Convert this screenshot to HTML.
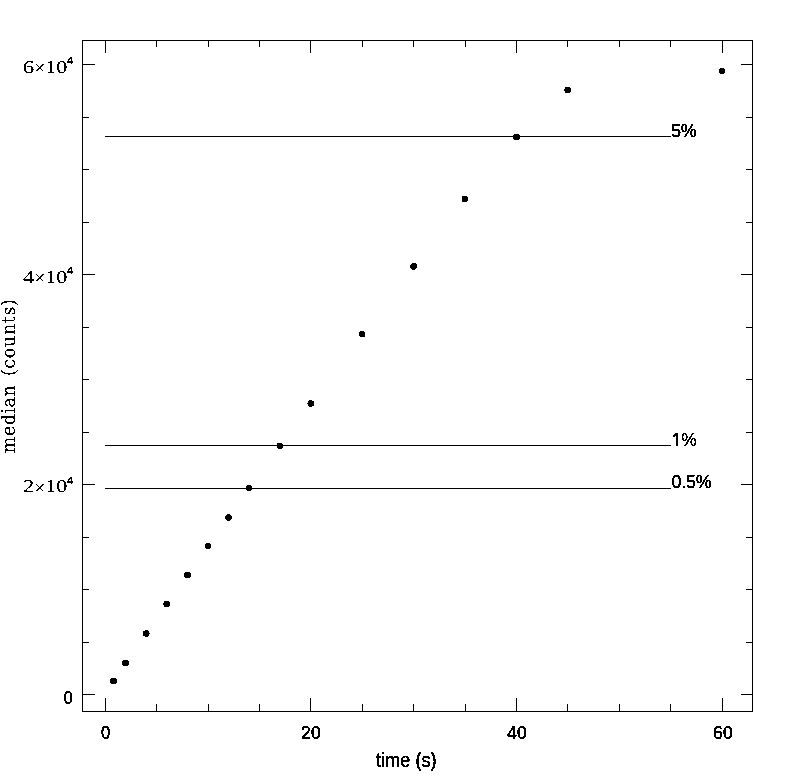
<!DOCTYPE html>
<html lang="en"><head><meta charset="utf-8"><title>median (counts) vs time (s)</title>
<style>html,body{margin:0;padding:0;background:#fff;}body{width:786px;height:783px;overflow:hidden;}svg{display:block;}.sans{font-family:"Liberation Sans",Arial,Helvetica,sans-serif;font-size:18px;fill:#000;stroke:#000;stroke-width:0.45px;}.serif{font-family:"DejaVu Serif","Liberation Serif",serif;fill:#000;stroke:#000;stroke-width:0.1px;}</style></head><body>
<svg width="786" height="783" viewBox="0 0 786 783">
<rect x="0" y="0" width="786" height="783" fill="#fff"/>
<defs><filter id="bw" x="-5%" y="-5%" width="110%" height="110%" color-interpolation-filters="sRGB"><feComponentTransfer><feFuncA type="discrete" tableValues="0 1"/></feComponentTransfer></filter><clipPath id="c1"><rect x="668" y="428" width="14" height="15.9"/><rect x="675.6" y="443" width="2.8" height="4"/></clipPath></defs>
<g fill="#000" shape-rendering="crispEdges">
<rect x="82" y="40" width="671" height="1"/>
<rect x="82" y="711" width="671" height="1"/>
<rect x="82" y="40" width="1" height="672"/>
<rect x="752" y="40" width="1" height="672"/>
<rect x="105" y="698" width="1" height="13"/>
<rect x="105" y="41" width="1" height="12"/>
<rect x="156" y="704" width="1" height="7"/>
<rect x="156" y="41" width="1" height="6"/>
<rect x="208" y="704" width="1" height="7"/>
<rect x="208" y="41" width="1" height="6"/>
<rect x="259" y="704" width="1" height="7"/>
<rect x="259" y="41" width="1" height="6"/>
<rect x="310" y="698" width="1" height="13"/>
<rect x="310" y="41" width="1" height="12"/>
<rect x="362" y="704" width="1" height="7"/>
<rect x="362" y="41" width="1" height="6"/>
<rect x="413" y="704" width="1" height="7"/>
<rect x="413" y="41" width="1" height="6"/>
<rect x="465" y="704" width="1" height="7"/>
<rect x="465" y="41" width="1" height="6"/>
<rect x="516" y="698" width="1" height="13"/>
<rect x="516" y="41" width="1" height="12"/>
<rect x="567" y="704" width="1" height="7"/>
<rect x="567" y="41" width="1" height="6"/>
<rect x="619" y="704" width="1" height="7"/>
<rect x="619" y="41" width="1" height="6"/>
<rect x="670" y="704" width="1" height="7"/>
<rect x="670" y="41" width="1" height="6"/>
<rect x="722" y="698" width="1" height="13"/>
<rect x="722" y="41" width="1" height="12"/>
<rect x="83" y="694" width="12" height="1"/>
<rect x="741" y="694" width="11" height="1"/>
<rect x="83" y="642" width="6" height="1"/>
<rect x="746" y="642" width="6" height="1"/>
<rect x="83" y="589" width="6" height="1"/>
<rect x="746" y="589" width="6" height="1"/>
<rect x="83" y="537" width="6" height="1"/>
<rect x="746" y="537" width="6" height="1"/>
<rect x="83" y="484" width="12" height="1"/>
<rect x="741" y="484" width="11" height="1"/>
<rect x="83" y="432" width="6" height="1"/>
<rect x="746" y="432" width="6" height="1"/>
<rect x="83" y="379" width="6" height="1"/>
<rect x="746" y="379" width="6" height="1"/>
<rect x="83" y="327" width="6" height="1"/>
<rect x="746" y="327" width="6" height="1"/>
<rect x="83" y="274" width="12" height="1"/>
<rect x="741" y="274" width="11" height="1"/>
<rect x="83" y="222" width="6" height="1"/>
<rect x="746" y="222" width="6" height="1"/>
<rect x="83" y="169" width="6" height="1"/>
<rect x="746" y="169" width="6" height="1"/>
<rect x="83" y="117" width="6" height="1"/>
<rect x="746" y="117" width="6" height="1"/>
<rect x="83" y="64" width="12" height="1"/>
<rect x="741" y="64" width="11" height="1"/>
<rect x="105" y="136" width="566" height="1"/>
<rect x="105" y="445" width="566" height="1"/>
<rect x="105" y="488" width="566" height="1"/>
</g>
<g fill="#000" filter="url(#bw)">
<circle cx="113.5" cy="681" r="3.3"/>
<circle cx="125.5" cy="663" r="3.3"/>
<circle cx="146.3" cy="633.5" r="3.3"/>
<circle cx="166.6" cy="604" r="3.3"/>
<circle cx="187.5" cy="575" r="3.3"/>
<circle cx="207.9" cy="546" r="3.3"/>
<circle cx="228.4" cy="517.5" r="3.3"/>
<circle cx="249" cy="488" r="3.3"/>
<circle cx="279.9" cy="445.7" r="3.3"/>
<circle cx="310.7" cy="403.5" r="3.3"/>
<circle cx="362.1" cy="334.2" r="3.3"/>
<circle cx="413.6" cy="266.4" r="3.3"/>
<circle cx="464.8" cy="198.9" r="3.3"/>
<circle cx="516.5" cy="137" r="3.3"/>
<circle cx="567.7" cy="89.9" r="3.3"/>
<circle cx="722" cy="71" r="3.3"/>
</g>
<g class="sans" filter="url(#bw)">
<text x="105.5" y="739" text-anchor="middle" textLength="9.2" lengthAdjust="spacingAndGlyphs">0</text>
<text x="310.9" y="739" text-anchor="middle" textLength="19.6" lengthAdjust="spacingAndGlyphs">20</text>
<text x="516.9" y="739" text-anchor="middle" textLength="19.6" lengthAdjust="spacingAndGlyphs">40</text>
<text x="722.9" y="739" text-anchor="middle" textLength="19.6" lengthAdjust="spacingAndGlyphs">60</text>
<text x="376" y="767" font-size="19.5" stroke-width="0.38" textLength="60.6" lengthAdjust="spacingAndGlyphs">time (s)</text>
<text x="72.6" y="704" text-anchor="end" textLength="9.2" lengthAdjust="spacingAndGlyphs">0</text>
<g stroke-width="0.45">
<text x="671.3" y="137" textLength="25.4" lengthAdjust="spacingAndGlyphs">5%</text>
<text x="672" y="446" clip-path="url(#c1)">1</text><text x="681.3" y="446" textLength="15.6" lengthAdjust="spacingAndGlyphs">%</text>
<text x="671.4" y="488" textLength="40.2" lengthAdjust="spacingAndGlyphs">0.5%</text>
</g>
</g>
<g class="serif" filter="url(#bw)">
<g font-family="'Liberation Serif','Times New Roman',serif" stroke-width="0.1" text-rendering="geometricPrecision">
<text y="73" font-size="18" x="22.9" textLength="11.2" lengthAdjust="spacingAndGlyphs">6</text>
<text y="74.2" font-size="19" x="34.2" textLength="11.2" lengthAdjust="spacingAndGlyphs" stroke-width="0">×</text>
<text y="73" font-size="18" x="45.6" textLength="10.6" lengthAdjust="spacingAndGlyphs">1</text>
<text y="73" font-size="18" x="56.2" textLength="11.2" lengthAdjust="spacingAndGlyphs">0</text>
<text y="64.4" font-size="11.2" stroke-width="0.2" x="66.5" textLength="6.8" lengthAdjust="spacingAndGlyphs">4</text>
<text y="283" font-size="18" x="22.9" textLength="11.2" lengthAdjust="spacingAndGlyphs">4</text>
<text y="284.2" font-size="19" x="34.2" textLength="11.2" lengthAdjust="spacingAndGlyphs" stroke-width="0">×</text>
<text y="283" font-size="18" x="45.6" textLength="10.6" lengthAdjust="spacingAndGlyphs">1</text>
<text y="283" font-size="18" x="56.2" textLength="11.2" lengthAdjust="spacingAndGlyphs">0</text>
<text y="274.4" font-size="11.2" stroke-width="0.2" x="66.5" textLength="6.8" lengthAdjust="spacingAndGlyphs">4</text>
<text y="492.3" font-size="18" x="22.9" textLength="11.2" lengthAdjust="spacingAndGlyphs">2</text>
<text y="493.5" font-size="19" x="34.2" textLength="11.2" lengthAdjust="spacingAndGlyphs" stroke-width="0">×</text>
<text y="492.3" font-size="18" x="45.6" textLength="10.6" lengthAdjust="spacingAndGlyphs">1</text>
<text y="492.3" font-size="18" x="56.2" textLength="11.2" lengthAdjust="spacingAndGlyphs">0</text>
<text y="483.7" font-size="11.2" stroke-width="0.2" x="66.5" textLength="6.8" lengthAdjust="spacingAndGlyphs">4</text>
</g>
<g font-family="'DejaVu Serif','Liberation Serif',serif" font-size="17.6" stroke-width="0.1">
<text transform="translate(15,453.2) rotate(-90)" textLength="68" lengthAdjust="spacing">median</text>
<text transform="translate(15,376) rotate(-90)" textLength="77" lengthAdjust="spacing">(counts)</text>
</g>
</g>
</svg></body></html>
